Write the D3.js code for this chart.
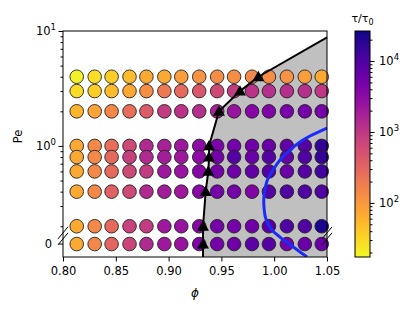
<!DOCTYPE html>
<html>
<head>
<meta charset="utf-8">
<script src="https://cdn.jsdelivr.net/npm/d3@7"></script>
<style>
  body { margin: 0; background: #fff; }
  text { font-family: "DejaVu Sans", sans-serif; }
</style>
</head>
<body>
<script>
// Packing fraction of each column
var phiValues = [0.813, 0.830, 0.846, 0.863, 0.879, 0.896, 0.912, 0.929, 0.946, 0.962, 0.979, 0.995, 1.012, 1.029, 1.045];

// Peclet number of each row (0 sits below the axis break)
var peValues = [4, 3, 2, 1, 0.8, 0.6, 0.4, 0.2, 0];

// log10(tau / tau0), one list per row, same order as peValues
var logTauPe4   = [1.30, 1.45, 1.55, 1.70, 1.85, 1.85, 1.95, 2.05, 2.10, 2.10, 2.15, 2.10, 2.05, 1.95, 1.85];
var logTauPe3   = [1.45, 1.55, 1.70, 1.85, 2.10, 2.30, 2.45, 2.65, 2.80, 2.95, 3.05, 3.10, 3.10, 3.10, 3.00];
var logTauPe2   = [1.75, 1.90, 2.15, 2.40, 2.60, 2.95, 3.05, 3.10, 3.25, 3.40, 3.55, 3.60, 3.65, 3.70, 3.70];
var logTauPe1   = [1.85, 2.15, 2.40, 2.80, 3.15, 3.25, 3.35, 3.50, 3.65, 3.70, 3.75, 3.80, 3.85, 3.95, 4.20];
var logTauPe08  = [1.85, 2.15, 2.45, 2.90, 3.15, 3.30, 3.35, 3.50, 3.70, 3.95, 3.80, 3.95, 3.85, 4.00, 4.20];
var logTauPe06  = [1.85, 2.15, 2.45, 2.80, 2.95, 3.35, 3.40, 3.55, 3.70, 3.75, 3.85, 3.95, 3.80, 3.95, 4.10];
var logTauPe04  = [1.85, 2.15, 2.55, 2.80, 3.15, 3.30, 3.35, 3.55, 3.70, 3.70, 3.60, 3.95, 4.00, 4.00, 4.00];
var logTauPe02  = [1.85, 2.15, 2.45, 2.90, 2.95, 3.35, 3.40, 3.55, 3.70, 3.70, 3.75, 3.95, 4.00, 4.00, 4.35];
var logTauPe0   = [1.85, 2.15, 2.50, 2.85, 3.15, 3.35, 3.40, 3.60, 3.70, 3.75, 3.90, 3.95, 3.70, 3.80, 3.80];
var logTauRows = [logTauPe4, logTauPe3, logTauPe2, logTauPe1, logTauPe08, logTauPe06, logTauPe04, logTauPe02, logTauPe0];

// Transition points (triangles), one per row from Pe = 0 upwards
var transitionPe  = [0, 0.2, 0.4, 0.6, 0.8, 1, 2, 3, 4];
var transitionPhi = [0.9326, 0.9326, 0.9351, 0.9376, 0.9383, 0.9383, 0.9477, 0.9676, 0.985];
// where the boundary line leaves the frame
var boundaryStart = {phi: 0.9326, pe: 0.108};
var boundaryEnd   = {phi: 1.05, pe: 8.8};

// Blue curve
var curvePhi = [1.050, 1.0339, 1.0244, 1.0150, 1.0055, 0.9989, 0.9932, 0.9904, 0.9904, 0.9922, 0.9979, 1.0055, 1.0169, 1.0311];
var curvePe  = [1.432, 1.219, 1.081, 0.921, 0.754, 0.617, 0.495, 0.374, 0.288, 0.231, 0.185, 0.161, 0.1345, 0.108];

// Tick values
var xTicks = [0.80, 0.85, 0.90, 0.95, 1.00, 1.05];
var yMajor = [1, 10];
var cbMajor = [100, 1000, 10000];

// SVG area
var svgWidth = 415;
var svgHeight = 314;
var chartMargin = {top: 31, right: 88, bottom: 57, left: 63};
var chartWidth = svgWidth - chartMargin.left - chartMargin.right;
var chartHeight = svgHeight - chartMargin.top - chartMargin.bottom;

var svg = d3.select("body")
            .append("svg")
            .attr("width", svgWidth)
            .attr("height", svgHeight);

var chartGroup = svg.append("g")
                    .attr("transform", `translate(${chartMargin.left}, ${chartMargin.top})`);

// Scales
var x = d3.scaleLinear().domain([0.8, 1.05]).range([0, chartWidth]);
var y = d3.scaleLog().domain([0.108, 10]).range([chartHeight, 0]);
var zeroPe = 0.14; // where the Pe = 0 row is put on the log axis
function yPos(pe) { return pe === 0 ? y(zeroPe) : y(pe); }

var tauMin = 17.3, tauMax = 26500;
var color = d3.scaleSequentialLog(function(t) { return d3.interpolatePlasma(1 - t); })
              .domain([tauMin, tauMax]);

chartGroup.append("clipPath").attr("id", "clip")
          .append("rect").attr("width", chartWidth).attr("height", chartHeight);

// Boundary points, bottom to top
var boundary = [boundaryStart].concat(transitionPe.map(function(p, i) {
  return {phi: transitionPhi[i], pe: p};
})).concat([boundaryEnd]);

// grey region right of the boundary
var area = boundary.map(function(d) { return [x(d.phi), yPos(d.pe)]; });
area.push([x(1.05), y(0.108)]);
chartGroup.append("path")
          .attr("d", "M" + area.join("L") + "Z")
          .attr("fill", "#c0c0c0");

// Circles
var points = [];
peValues.forEach(function(pe, r) {
  phiValues.forEach(function(phi, c) {
    points.push({phi: phi, pe: pe, tau: Math.pow(10, logTauRows[r][c])});
  });
});

chartGroup.selectAll("circle.pt")
          .data(points)
          .enter()
          .append("circle")
          .attr("class", "pt")
          .attr("cx", function(d) { return x(d.phi); })
          .attr("cy", function(d) { return yPos(d.pe); })
          .attr("r", 6.8)
          .attr("fill", function(d) { return color(d.tau); })
          .attr("stroke", "#222")
          .attr("stroke-width", 0.9);

// Blue curve
var curveLine = d3.line()
                  .x(function(d) { return x(d[0]); })
                  .y(function(d) { return y(d[1]); })
                  .curve(d3.curveCatmullRom);
chartGroup.append("path")
          .datum(curvePhi.map(function(p, i) { return [p, curvePe[i]]; }))
          .attr("clip-path", "url(#clip)")
          .attr("d", curveLine)
          .attr("fill", "none")
          .attr("stroke", "#1c2cf8")
          .attr("stroke-width", 3);

// Boundary line with triangles
chartGroup.append("path")
          .datum(boundary)
          .attr("d", d3.line().x(function(d) { return x(d.phi); }).y(function(d) { return yPos(d.pe); }))
          .attr("fill", "none")
          .attr("stroke", "#000")
          .attr("stroke-width", 2);

chartGroup.selectAll("path.tri")
          .data(boundary.slice(1, boundary.length - 1))
          .enter()
          .append("path")
          .attr("class", "tri")
          .attr("transform", function(d) { return `translate(${x(d.phi)}, ${yPos(d.pe) + 1})`; })
          .attr("d", d3.symbol().type(d3.symbolTriangle).size(62))
          .attr("fill", "#000");

// Frame
chartGroup.append("rect")
          .attr("width", chartWidth)
          .attr("height", chartHeight)
          .attr("fill", "none")
          .attr("stroke", "#000")
          .attr("stroke-width", 1);

// x-axis
var xAxis = chartGroup.append("g")
                      .attr("transform", "translate(0," + chartHeight + ")")
                      .call(d3.axisBottom(x).tickValues(xTicks).tickSize(4.5).tickPadding(5).tickFormat(d3.format(".2f")));
xAxis.select(".domain").remove();
xAxis.selectAll("text").style("font-size", "11.5px").attr("fill", "#000");

// y-axis: minor ticks, majors and the 0 tick
var yMinor = [];
[0.1, 1].forEach(function(dec) {
  for (var k = 2; k <= 9; k++) { if (k * dec >= 0.2) yMinor.push(k * dec); }
});
var yAxisMinor = chartGroup.append("g")
                           .call(d3.axisLeft(y).tickValues(yMinor).tickSize(2.5).tickFormat(""));
yAxisMinor.select(".domain").remove();
var yAxisMajor = chartGroup.append("g")
                           .call(d3.axisLeft(y).tickValues(yMajor).tickSize(4.5).tickFormat(""));
yAxisMajor.select(".domain").remove();

yMajor.forEach(function(v) {
  var t = chartGroup.append("text")
                    .attr("x", -7)
                    .attr("y", y(v) + 4)
                    .attr("text-anchor", "end")
                    .style("font-size", "11.5px");
  t.append("tspan").text("10");
  t.append("tspan").attr("dy", -5).style("font-size", "8.5px").text(Math.round(Math.log10(v)));
});

chartGroup.append("line")
          .attr("x1", -4.5).attr("x2", 0)
          .attr("y1", yPos(0)).attr("y2", yPos(0))
          .attr("stroke", "#000");
chartGroup.append("text")
          .attr("x", -11)
          .attr("y", yPos(0) + 4)
          .attr("text-anchor", "end")
          .style("font-size", "11.5px")
          .text("0");

// axis break marks on both sides
[0, chartWidth].forEach(function(bx) {
  [-3, 3].forEach(function(off) {
    var by = y(0.165) + off;
    chartGroup.append("line")
              .attr("x1", bx - 5).attr("y1", by + 6)
              .attr("x2", bx + 5).attr("y2", by - 6)
              .attr("stroke", "#000")
              .attr("stroke-width", 1);
  });
});

// Axis labels
chartGroup.append("text")
          .attr("transform", "translate(-41," + (y(0.165) / 2 + 3) + ") rotate(-90)")
          .attr("text-anchor", "middle")
          .style("font-size", "11.5px")
          .text("Pe");

chartGroup.append("text")
          .attr("x", chartWidth / 2)
          .attr("y", chartHeight + 40)
          .attr("text-anchor", "middle")
          .style("font-size", "12px")
          .style("font-style", "italic")
          .text("\u03d5");

// Colorbar
var cbX = 355, cbW = 15;
var cbScale = d3.scaleLog().domain([tauMin, tauMax]).range([chartHeight, 0]);
var grad = svg.append("defs").append("linearGradient")
              .attr("id", "cbgrad")
              .attr("x1", 0).attr("y1", 1).attr("x2", 0).attr("y2", 0);
d3.range(0, 1.0001, 0.05).forEach(function(t) {
  grad.append("stop").attr("offset", t).attr("stop-color", d3.interpolatePlasma(1 - t));
});
var cbGroup = svg.append("g").attr("transform", `translate(${cbX}, ${chartMargin.top})`);
cbGroup.append("rect")
       .attr("width", cbW)
       .attr("height", chartHeight)
       .attr("fill", "url(#cbgrad)")
       .attr("stroke", "#000")
       .attr("stroke-width", 1);

var cbMinor = [];
[10, 100, 1000, 10000].forEach(function(dec) {
  for (var k = 2; k <= 9; k++) {
    var v = k * dec;
    if (v > tauMin && v < tauMax) cbMinor.push(v);
  }
});
var cbAxisMinor = cbGroup.append("g")
                         .attr("transform", `translate(${cbW}, 0)`)
                         .call(d3.axisRight(cbScale).tickValues(cbMinor).tickSize(2.5).tickFormat(""));
cbAxisMinor.select(".domain").remove();
var cbAxisMajor = cbGroup.append("g")
                         .attr("transform", `translate(${cbW}, 0)`)
                         .call(d3.axisRight(cbScale).tickValues(cbMajor).tickSize(4.5).tickFormat(""));
cbAxisMajor.select(".domain").remove();

cbMajor.forEach(function(v) {
  var t = cbGroup.append("text")
                 .attr("x", cbW + 9)
                 .attr("y", cbScale(v) + 4)
                 .style("font-size", "11.5px");
  t.append("tspan").text("10");
  t.append("tspan").attr("dy", -5).style("font-size", "8.5px").text(Math.round(Math.log10(v)));
});

// colorbar title
var cbTitle = cbGroup.append("text")
                     .attr("x", cbW / 2)
                     .attr("y", -9)
                     .attr("text-anchor", "middle")
                     .style("font-size", "11px");
cbTitle.append("tspan").text("\u03c4/\u03c4");
cbTitle.append("tspan").attr("dy", 3).style("font-size", "8px").text("0");
</script>
</body>
</html>
